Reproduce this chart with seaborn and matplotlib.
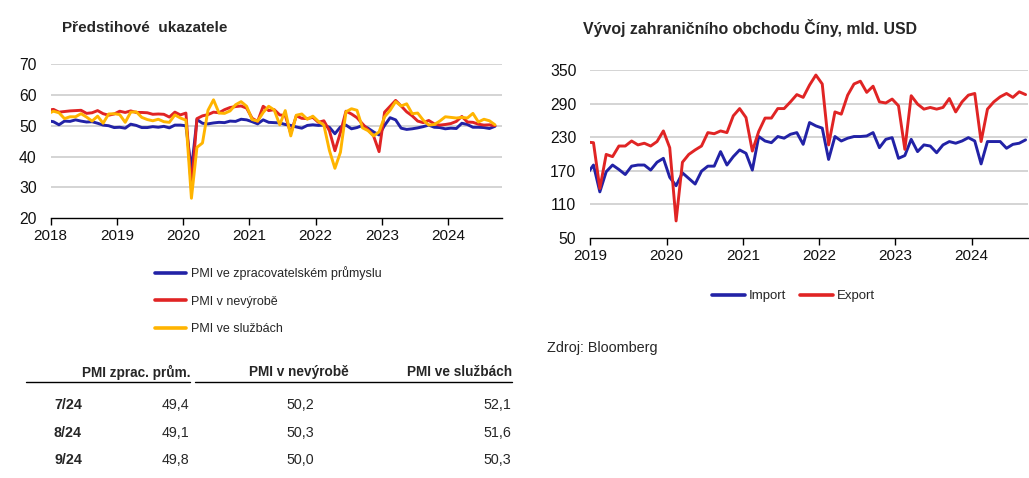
import numpy as np
import pandas as pd
import matplotlib
matplotlib.use("Agg")
import matplotlib.pyplot as plt
from matplotlib.lines import Line2D
import seaborn as sns

# ---------------- data ----------------
pmi_start = "2017-12"
pmi_end = "2024-09"
pmi_manuf = [51.6,
    51.3, 50.3, 51.5, 51.4, 51.9, 51.5, 51.2, 51.3, 50.8, 50.2, 50.0, 49.4,
    49.5, 49.2, 50.5, 50.1, 49.4, 49.4, 49.7, 49.5, 49.8, 49.3, 50.2, 50.2,
    50.0, 35.7, 52.0, 50.8, 50.6, 50.9, 51.1, 51.0, 51.5, 51.4, 52.1, 51.9,
    51.3, 50.6, 51.9, 51.1, 51.0, 50.9, 50.4, 50.1, 49.6, 49.2, 50.1, 50.3,
    50.1, 50.2, 49.5, 47.4, 49.6, 50.2, 49.0, 49.4, 50.1, 49.2, 48.0, 47.0,
    50.1, 52.6, 51.9, 49.2, 48.8, 49.0, 49.3, 49.7, 50.2, 49.5, 49.4, 49.0,
    49.2, 49.1, 50.8, 50.4, 49.5, 49.5, 49.4, 49.1, 49.8]
pmi_nonmanuf = [55.0,
    55.3, 54.4, 54.6, 54.8, 54.9, 55.0, 54.0, 54.2, 54.9, 53.9, 53.4, 53.8,
    54.7, 54.3, 54.8, 54.3, 54.3, 54.2, 53.7, 53.8, 53.7, 52.8, 54.4, 53.5,
    54.1, 29.6, 52.3, 53.2, 53.6, 54.4, 54.2, 55.2, 55.9, 56.2, 56.4, 55.7,
    52.4, 51.4, 56.3, 54.9, 55.2, 53.5, 53.3, 47.5, 53.2, 52.4, 52.3, 52.7,
    51.1, 51.6, 48.4, 41.9, 47.8, 54.7, 53.8, 52.6, 50.6, 48.7, 46.7, 41.6,
    54.4, 56.3, 58.2, 56.4, 54.5, 53.2, 51.5, 51.0, 51.7, 50.6, 50.2, 50.4,
    50.7, 51.4, 53.0, 51.2, 51.1, 50.5, 50.2, 50.3, 50.0]
pmi_services = [53.9,
    54.7, 54.2, 52.3, 52.9, 52.9, 53.9, 52.8, 51.5, 53.1, 50.8, 53.8, 53.9,
    53.6, 51.1, 54.4, 54.5, 52.7, 52.0, 51.6, 52.1, 51.3, 51.1, 53.5, 52.5,
    51.8, 26.5, 43.0, 44.4, 55.0, 58.4, 54.1, 54.0, 54.8, 56.8, 57.8, 56.3,
    52.0, 51.5, 54.3, 56.3, 55.1, 50.3, 54.9, 46.7, 53.4, 53.8, 52.1, 53.1,
    51.4, 50.2, 42.0, 36.2, 41.4, 54.5, 55.5, 55.0, 49.3, 48.4, 46.7, 48.0,
    52.9, 55.0, 57.8, 56.4, 57.1, 53.9, 54.1, 51.8, 50.2, 50.4, 51.5, 52.9,
    52.7, 52.5, 52.7, 52.5, 54.0, 51.2, 52.1, 51.6, 50.3]
pmi_labels = ["PMI ve zpracovatelském průmyslu", "PMI v nevýrobě", "PMI ve službách"]

trade_start = "2018-12"
trade_end = "2024-09"
exports = [221,
    220, 138, 199, 195, 214, 214, 223, 216, 219, 214, 222, 241,
    211, 80, 185, 199, 207, 214, 238, 236, 241, 238, 268, 281,
    265, 205, 240, 264, 264, 281, 281, 293, 306, 301, 323, 341,
    325, 216, 275, 271, 305, 325, 330, 310, 321, 293, 291, 298,
    286, 208, 304, 289, 280, 283, 280, 283, 299, 275, 293, 305,
    308, 222, 280, 293, 302, 308, 301, 311, 306]
imports = [164,
    180, 132, 168, 180, 172, 163, 178, 180, 180, 171, 185, 192,
    158, 143, 166, 156, 146, 169, 178, 178, 204, 180, 195, 207,
    201, 171, 231, 223, 220, 231, 228, 235, 238, 217, 256, 250,
    246, 190, 231, 223, 228, 231, 231, 232, 238, 211, 226, 229,
    192, 197, 226, 204, 216, 214, 202, 216, 222, 219, 223, 229,
    223, 182, 222, 222, 222, 210, 217, 219, 225]
trade_labels = ["Import", "Export"]

pmi_years = [2018, 2019, 2020, 2021, 2022, 2023, 2024]
pmi_yticks = [20, 30, 40, 50, 60, 70]
trade_years = [2019, 2020, 2021, 2022, 2023, 2024]
trade_yticks = [50, 110, 170, 230, 290, 350]

table_cols = ["PMI zprac. prům.", "PMI v nevýrobě", "PMI ve službách"]
table_rows = ["7/24", "8/24", "9/24"]
table_manuf = [49.4, 49.1, 49.8]
table_nonmanuf = [50.2, 50.3, 50.0]
table_services = [52.1, 51.6, 50.3]

title_left = "Předstihové  ukazatele"
title_right = "Vývoj zahraničního obchodu Číny, mld. USD"
source = "Zdroj: Bloomberg"

# ---------------- style ----------------
sns.set_style("white")
plt.rcParams["font.family"] = ["Liberation Sans", "DejaVu Sans"]
BLUE = "#2222A6"
RED = "#E02424"
YELLOW = "#FFB400"
GRID = "#D4D4D4"


def frac_years(start, end):
    p = pd.period_range(start, end, freq="M")
    return p.year + (p.month - 0.5) / 12.0


t_pmi = frac_years(pmi_start, pmi_end)
df_pmi = pd.concat([
    pd.DataFrame({"t": t_pmi, "v": vals, "s": lab})
    for vals, lab in zip([pmi_manuf, pmi_nonmanuf, pmi_services], pmi_labels)
])
t_tr = frac_years(trade_start, trade_end)
df_tr = pd.concat([
    pd.DataFrame({"t": t_tr, "v": vals, "s": lab})
    for vals, lab in zip([imports, exports], trade_labels)
])

W, H = 1029, 478
fig = plt.figure(figsize=(W / 100, H / 100), dpi=100)


def fx(px):
    return px / W


def fy(py):
    return 1 - py / H


ax1 = fig.add_axes([fx(50.7), fy(218.3), fx(501.7 - 50.7), (218.3 - 64) / H])
ax2 = fig.add_axes([fx(590.3), fy(237.7), fx(1028 - 590.3), (237.7 - 70) / H])

pal1 = dict(zip(pmi_labels, [BLUE, RED, YELLOW]))
pal2 = dict(zip(trade_labels, [BLUE, RED]))
sns.lineplot(data=df_pmi, x="t", y="v", hue="s", palette=pal1, ax=ax1,
             legend=False, linewidth=2.1, sort=False)
sns.lineplot(data=df_tr, x="t", y="v", hue="s", palette=pal2, ax=ax2,
             legend=False, linewidth=2.1, sort=False)


def style_axis(ax, years, yticks, xlim):
    ax.set_xlim(*xlim)
    ax.set_ylim(yticks[0], yticks[-1])
    ax.set_xticks(years)
    ax.set_xticklabels([str(y) for y in years])
    ax.set_yticks(yticks)
    ax.set_yticklabels([str(y) for y in yticks])
    ax.set_xlabel("")
    ax.set_ylabel("")
    for s in ["top", "right", "left"]:
        ax.spines[s].set_visible(False)
    ax.spines["bottom"].set_color("black")
    ax.spines["bottom"].set_linewidth(1.0)
    ax.grid(axis="y", color=GRID, linewidth=1.4)
    ax.grid(axis="x", visible=False)
    ax.set_axisbelow(True)
    ax.tick_params(axis="x", direction="out", length=5, width=1, color="black",
                   labelsize=11, pad=3, bottom=True, labelcolor="#111111")
    ax.tick_params(axis="y", length=0, labelsize=11.3, pad=10, labelcolor="#111111")
    ax.patch.set_alpha(0)


style_axis(ax1, pmi_years, pmi_yticks, (2018.0, 2024.81))
style_axis(ax2, trade_years, trade_yticks, (2019.0, 2024.74))
ax1.yaxis.get_gridlines()[0].set_visible(False)
ax2.yaxis.get_gridlines()[0].set_visible(False)

# titles
fig.text(fx(62), fy(28), title_left, fontsize=11, fontweight="bold",
         va="center", ha="left")
fig.text(fx(583), fy(28), title_right, fontsize=11.4, fontweight="bold",
         va="center", ha="left")

# left legend
h1 = [Line2D([], [], color=c, lw=2.6) for c in [BLUE, RED, YELLOW]]
fig.legend(h1, pmi_labels, loc="upper left", bbox_to_anchor=(fx(155), fy(266)),
           frameon=False, fontsize=9, handlelength=2.5, handletextpad=0.35,
           labelspacing=1.26, borderpad=0, borderaxespad=0)

# right legend
h2 = [Line2D([], [], color=c, lw=2.6) for c in [BLUE, RED]]
fig.legend(h2, trade_labels, loc="upper left", bbox_to_anchor=(fx(712), fy(290)),
           frameon=False, fontsize=9.5, handlelength=2.5, handletextpad=0.3,
           columnspacing=1.0, ncol=2, borderpad=0, borderaxespad=0)

fig.text(fx(547), fy(348), source, fontsize=10.4, va="center", ha="left")

# table
TFS = 10.3
HFS = 9.8
hdr_y = 372
fig.text(fx(190), fy(hdr_y), table_cols[0], fontsize=HFS, fontweight="bold",
         ha="right", va="center")
fig.text(fx(349), fy(hdr_y), table_cols[1], fontsize=HFS, fontweight="bold",
         ha="right", va="center")
fig.text(fx(512), fy(hdr_y), table_cols[2], fontsize=HFS, fontweight="bold",
         ha="right", va="center")
fig.add_artist(Line2D([fx(26), fx(190)], [fy(382), fy(382)], color="black", lw=1))
fig.add_artist(Line2D([fx(195), fx(512)], [fy(382), fy(382)], color="black", lw=1))


def fmt(v):
    return f"{v:.1f}".replace(".", ",")


row_ys = [405, 433, 460]
for ry, lab, a, b, c in zip(row_ys, table_rows, table_manuf, table_nonmanuf, table_services):
    fig.text(fx(82), fy(ry), lab, fontsize=TFS, fontweight="bold", ha="right", va="center")
    fig.text(fx(189), fy(ry), fmt(a), fontsize=TFS, ha="right", va="center")
    fig.text(fx(314), fy(ry), fmt(b), fontsize=TFS, ha="right", va="center")
    fig.text(fx(511), fy(ry), fmt(c), fontsize=TFS, ha="right", va="center")

fig.savefig("out.png", dpi=100)
